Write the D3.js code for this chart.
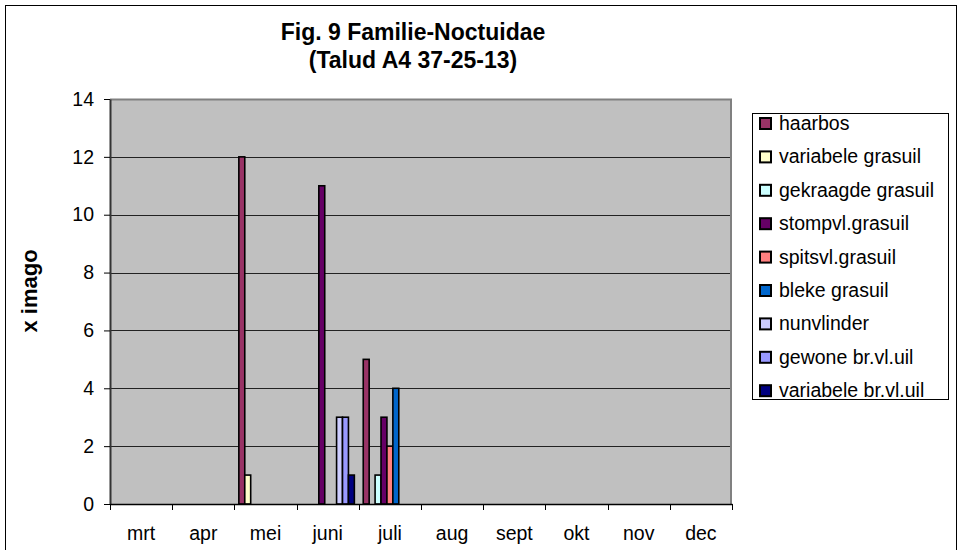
<!DOCTYPE html>
<html>
<head>
<meta charset="utf-8">
<script src="https://d3js.org/d3.v7.min.js"></script>
<style>
  html, body { margin: 0; padding: 0; background: #fff; }
  text { font-family: Arial, "Liberation Sans", sans-serif; fill: #000; }
</style>
</head>
<body>
<script>
// chart data
const months = ["mrt", "apr", "mei", "juni", "juli", "aug", "sept", "okt", "nov", "dec"];
const seriesNames = [
  "haarbos",
  "variabele grasuil",
  "gekraagde grasuil",
  "stompvl.grasuil",
  "spitsvl.grasuil",
  "bleke grasuil",
  "nunvlinder",
  "gewone br.vl.uil",
  "variabele br.vl.uil",
];
const haarbos = [0, 0, 12, 0, 5, 0, 0, 0, 0, 0];
const variabeleGrasuil = [0, 0, 1, 0, 0, 0, 0, 0, 0, 0];
const gekraagdeGrasuil = [0, 0, 0, 0, 1, 0, 0, 0, 0, 0];
const stompvlGrasuil = [0, 0, 0, 11, 3, 0, 0, 0, 0, 0];
const spitsvlGrasuil = [0, 0, 0, 0, 2, 0, 0, 0, 0, 0];
const blekeGrasuil = [0, 0, 0, 0, 4, 0, 0, 0, 0, 0];
const nunvlinder = [0, 0, 0, 3, 0, 0, 0, 0, 0, 0];
const gewoneBrVlUil = [0, 0, 0, 3, 0, 0, 0, 0, 0, 0];
const variabeleBrVlUil = [0, 0, 0, 1, 0, 0, 0, 0, 0, 0];
const yTicks = [0, 2, 4, 6, 8, 10, 12, 14];

const seriesValues = [
  haarbos, variabeleGrasuil, gekraagdeGrasuil, stompvlGrasuil, spitsvlGrasuil,
  blekeGrasuil, nunvlinder, gewoneBrVlUil, variabeleBrVlUil,
];
const colors = ["#993366", "#FFFFCC", "#CCFFFF", "#660066", "#FF8080",
  "#0066CC", "#CCCCFF", "#9999FF", "#000080"];

// dimensions
const width = 957;
const height = 550;
const plotLeft = 110;
const plotRight = 732;
const plotTop = 99;
const plotBottom = 504;
const fontSize = 19.5;

const svg = d3.select("body").append("svg")
  .attr("width", width)
  .attr("height", height);

// outer chart border
svg.append("rect")
  .attr("x", 5.5).attr("y", 5.5)
  .attr("width", 951).attr("height", 560)
  .attr("fill", "#fff").attr("stroke", "#000").attr("stroke-width", 1);

// scales
const x = d3.scaleBand().domain(months).range([plotLeft, plotRight]).padding(0);
const xInner = d3.scaleBand().domain(seriesNames)
  .range([0, x.bandwidth()]).paddingInner(0).paddingOuter(0.75);
const y = d3.scaleLinear().domain([0, 14]).range([plotBottom, plotTop]);

// back wall
svg.append("rect")
  .attr("x", plotLeft).attr("y", plotTop)
  .attr("width", plotRight - plotLeft).attr("height", plotBottom - plotTop)
  .attr("fill", "#C0C0C0");

// gridlines
svg.append("g")
  .selectAll("line")
  .data(yTicks.filter((d) => d > 0 && d < 14))
  .join("line")
  .attr("x1", plotLeft).attr("x2", plotRight)
  .attr("y1", (d) => Math.round(y(d)) + 0.5)
  .attr("y2", (d) => Math.round(y(d)) + 0.5)
  .attr("stroke", "#222").attr("stroke-width", 1);

// wall edges
svg.append("path")
  .attr("d", `M${plotLeft},${plotTop + 0.5}H${plotRight - 1}V${plotBottom}`)
  .attr("fill", "none").attr("stroke", "#808080").attr("stroke-width", 2);

// bars
const groups = svg.append("g")
  .selectAll("g")
  .data(seriesNames)
  .join("g")
  .attr("fill", (d, i) => colors[i]);

groups.selectAll("rect")
  .data((d, i) => seriesValues[i].map((v, j) => ({ name: d, month: months[j], value: v })))
  .join("rect")
  .filter((d) => d.value > 0)
  .attr("x", (d) => x(d.month) + xInner(d.name))
  .attr("y", (d) => y(d.value))
  .attr("width", xInner.bandwidth())
  .attr("height", (d) => y(0) - y(d.value))
  .attr("stroke", "#000")
  .attr("stroke-width", 1.6);

// y axis
const yAxis = svg.append("g")
  .attr("transform", `translate(${plotLeft},0)`)
  .call(d3.axisLeft(y).tickValues(yTicks).tickSize(6).tickPadding(10).tickSizeOuter(0));
yAxis.select(".domain").attr("stroke", "#333").attr("stroke-width", 2);
yAxis.selectAll(".tick line").attr("stroke", "#000");
yAxis.selectAll("text")
  .attr("font-size", fontSize)
  .attr("font-family", "Arial, 'Liberation Sans', sans-serif");

// x axis: labels at category centres, ticks at category boundaries
const xAxis = svg.append("g")
  .attr("transform", `translate(0,${plotBottom})`)
  .call(d3.axisBottom(x).tickSize(0).tickPadding(22).tickSizeOuter(0));
xAxis.select(".domain").attr("stroke", "#000").attr("stroke-width", 1.5);
xAxis.selectAll("text")
  .attr("font-size", fontSize)
  .attr("font-family", "Arial, 'Liberation Sans', sans-serif");

const bounds = months.map((m) => x(m)).concat([plotRight]);
svg.append("g")
  .selectAll("line")
  .data(bounds)
  .join("line")
  .attr("x1", (d) => Math.round(d) + 0.5).attr("x2", (d) => Math.round(d) + 0.5)
  .attr("y1", plotBottom).attr("y2", plotBottom + 6)
  .attr("stroke", "#000");

// axis title
svg.append("text")
  .attr("transform", "translate(37,291) rotate(-90)")
  .attr("text-anchor", "middle")
  .attr("font-size", 22)
  .attr("font-weight", "bold")
  .text("x imago");

// chart title
const title = svg.append("text")
  .attr("text-anchor", "middle")
  .attr("font-size", 23)
  .attr("font-weight", "bold");
title.append("tspan").attr("x", 413).attr("y", 40).text("Fig. 9 Familie-Noctuidae");
title.append("tspan").attr("x", 413).attr("y", 68).text("(Talud A4 37-25-13)");

// legend
const legendTop = 113;
const rowH = 33.4;
const legend = svg.append("g");
legend.append("rect")
  .attr("x", 752.5).attr("y", legendTop + 0.5)
  .attr("width", 196).attr("height", 286)
  .attr("fill", "#fff").attr("stroke", "#000");

const items = legend.selectAll("g.item")
  .data(seriesNames)
  .join("g")
  .attr("class", "item")
  .attr("transform", (d, i) => `translate(0,${legendTop + 10 + i * rowH})`);

items.append("rect")
  .attr("x", 760).attr("y", -5)
  .attr("width", 11).attr("height", 11)
  .attr("fill", (d, i) => colors[i])
  .attr("stroke", "#000").attr("stroke-width", 2);

items.append("text")
  .attr("x", 779).attr("y", 7)
  .attr("font-size", fontSize)
  .text((d) => d);
</script>
</body>
</html>
